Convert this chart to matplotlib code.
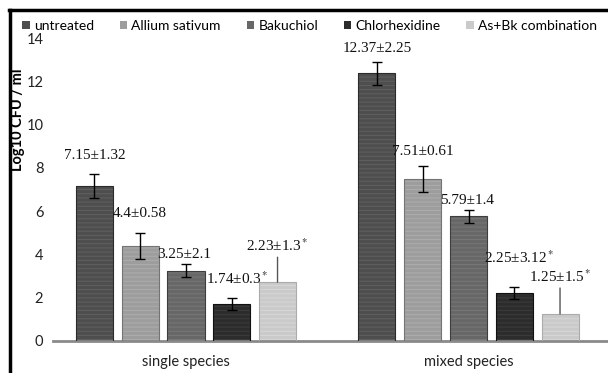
import numpy as np
import matplotlib.pyplot as plt
from matplotlib.patches import Patch
from matplotlib.lines import Line2D

# -----------------------------
# Data (log10 CFU / ml)
# -----------------------------
groups = ["single species", "mixed species"]
treatments = ["untreated", "Allium sativum", "Bakuchiol", "Chlorhexidine", "As+Bk combination"]

single_vals = [7.15, 4.4, 3.25, 1.7, 2.72]
mixed_vals = [12.37, 7.49, 5.77, 2.23, 1.25]

# error bar half lengths as drawn (the combination has none)
single_err = [0.55, 0.6, 0.31, 0.27, 0.0]
mixed_err = [0.53, 0.6, 0.3, 0.27, 0.0]

single_labels = ["7.15±1.32", "4.4±0.58", "3.25±2.1", "1.74±0.3$^*$", "2.23±1.3$^*$"]
mixed_labels = ["12.37±2.25", "7.51±0.61", "5.79±1.4", "2.25±3.12$^*$", "1.25±1.5$^*$"]

# -----------------------------
# Style
# -----------------------------
plt.rcParams['font.family'] = ['Lato', 'DejaVu Sans']
plt.rcParams['mathtext.fontset'] = 'stix'
plt.rcParams['hatch.linewidth'] = 0.7

face = ['#4e4e4e', '#9d9d9d', '#676767', '#2c2c2c', '#cacaca']
stripe = ['#606060', '#adadad', '#787878', '#3c3c3c', '#d8d8d8']
edge = ['#2a2a2a', '#747474', '#3e3e3e', '#111111', '#ababab']

# label offsets in pixels (dx, dy) from the bar top
single_off = [(0, 31), (0, 32), (-1.5, 16), (5.5, 26), (0, 36)]
mixed_off = [(0, 25), (0, 27), (-1.5, 16), (5, 35), (0, 37)]

fig = plt.figure(figsize=(6.08, 3.73), dpi=100)
ax = fig.add_axes([53 / 608, 32 / 373, 555 / 608, 303 / 373])

x = np.arange(len(groups))
width = 0.131
step = 0.162

for i, name in enumerate(treatments):
    vals = [single_vals[i], mixed_vals[i]]
    errs = [single_err[i], mixed_err[i]]
    pos = x + (i - 2) * step
    ax.bar(pos, vals, width, color=face[i], edgecolor=stripe[i], hatch='----', linewidth=0, zorder=2)
    ax.bar(pos, vals, width, fill=False, edgecolor=edge[i], linewidth=0.8, zorder=3)
    if errs[0] > 0:
        ax.errorbar(pos, vals, yerr=errs, fmt='none', ecolor='black', elinewidth=1,
                    capsize=3.5, capthick=1, zorder=4)

    for j, (labels, offs) in enumerate([(single_labels, single_off), (mixed_labels, mixed_off)]):
        dx, dy = offs[i]
        lead = dict(arrowstyle='-', color='#555555', lw=1, shrinkA=0, shrinkB=0) if errs[j] == 0 else None
        ax.annotate(labels[i], xy=(pos[j], vals[j]), xytext=(dx, dy), textcoords='offset pixels',
                    ha='center', va='center', family='Liberation Serif', fontsize=11,
                    color='#111111', arrowprops=lead, zorder=5)

ax.set_xlim((53 - 186) / 282.5, (608 - 186) / 282.5)
ax.set_ylim(0, 14)
ax.set_yticks(range(0, 15, 2))
ax.set_xticks(x)
ax.set_xticklabels(groups)
ax.tick_params(axis='both', length=0, labelsize=10.5, colors='#222222')
ax.tick_params(axis='x', pad=10)
ax.tick_params(axis='y', pad=7)

for s in ['top', 'right', 'left']:
    ax.spines[s].set_visible(False)
ax.spines['bottom'].set_color('#8a8a8a')
ax.spines['bottom'].set_linewidth(2)

ax.set_ylabel("Log10 CFU / ml", fontsize=10.5, fontweight='bold')
ax.yaxis.set_label_coords(-0.050, 0.729)

handles = [Patch(facecolor=face[i], edgecolor='none') for i in range(len(treatments))]
fig.legend(handles, treatments, loc='center left', bbox_to_anchor=(22 / 608, 1 - 26 / 373),
           ncol=5, frameon=False, fontsize=10, handlelength=0.55, handleheight=0.55,
           handletextpad=0.3, columnspacing=1.85, borderaxespad=0, borderpad=0)

# frame remnants of the original figure
fig.add_artist(Line2D([9 / 608, 1], [1 - 10 / 373] * 2, color='black', lw=2.5, transform=fig.transFigure))
fig.add_artist(Line2D([10 / 608] * 2, [0, 1 - 10 / 373], color='black', lw=2.5, transform=fig.transFigure))

fig.savefig("out.png", dpi=100)
